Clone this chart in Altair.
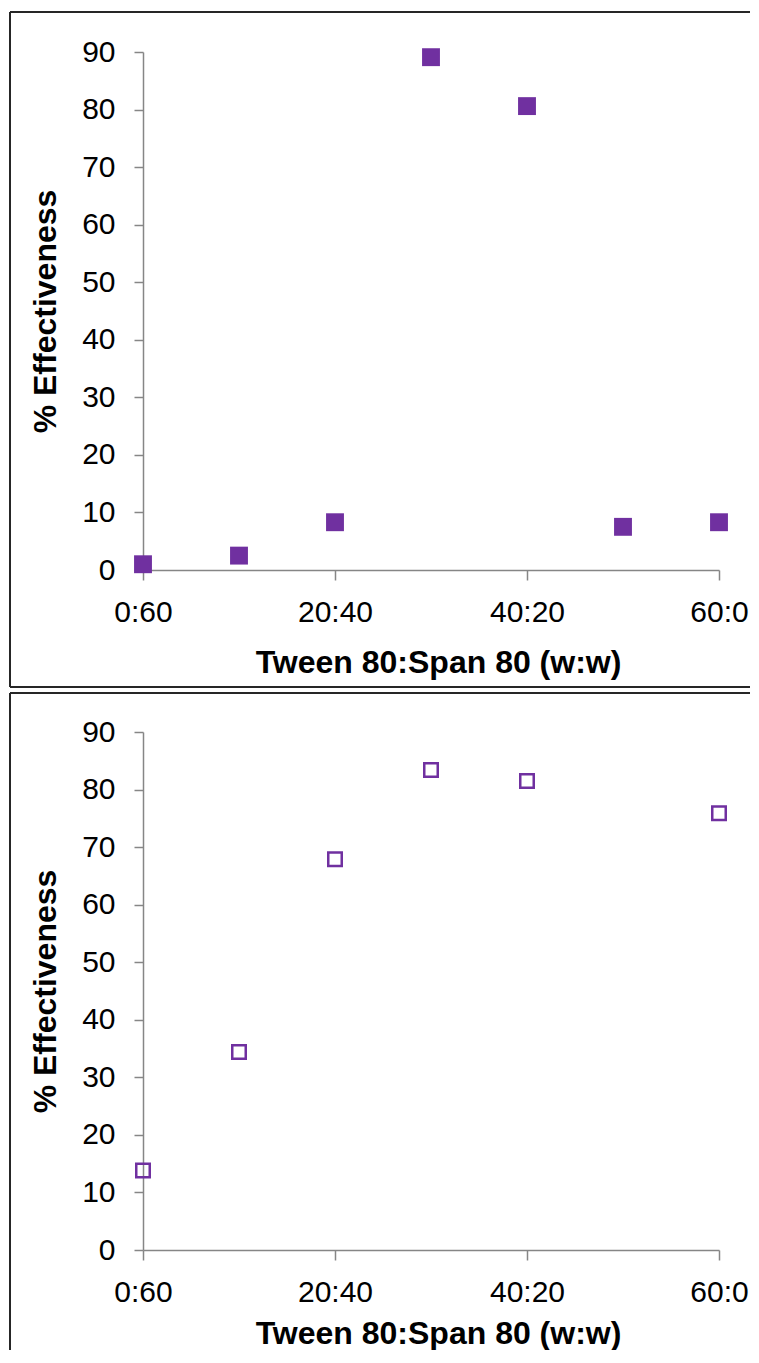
import json
import altair as alt
import pandas as pd

# ---- data ----
ratio_x = [0, 10, 20, 30, 40, 50, 60]
top_effectiveness = [1.0, 2.5, 8.3, 89.1, 80.6, 7.5, 8.3]

bottom_x = [0, 10, 20, 30, 40, 60]
bottom_effectiveness = [13.8, 34.4, 67.9, 83.4, 81.5, 75.9]

x_tick_values = [0, 20, 40, 60]
x_tick_labels = ["0:60", "20:40", "40:20", "60:0"]
y_tick_values = [0, 10, 20, 30, 40, 50, 60, 70, 80, 90]

x_title = "Tween 80:Span 80 (w:w)"
y_title = "% Effectiveness"

# ---- styling ----
W, H = 576, 518
PURPLE = "#7030A0"
AXIS_GREY = "#868686"
BORDER = "#262626"
FONT = "Liberation Sans"

label_expr = f"{json.dumps(x_tick_labels)}[indexof({json.dumps(x_tick_values)}, datum.value)]"

one_row = pd.DataFrame({"k": [0]})


def border_rules(top_y, bottom_y, draw_bottom):
    left, right = -133, 607
    rules = [
        alt.Chart(one_row).mark_rule(color=BORDER, strokeWidth=2).encode(
            x=alt.value(left), x2=alt.value(right), y=alt.value(top_y)
        ),
        alt.Chart(one_row).mark_rule(color=BORDER, strokeWidth=2).encode(
            x=alt.value(left), y=alt.value(top_y), y2=alt.value(bottom_y)
        ),
    ]
    if draw_bottom:
        rules.append(
            alt.Chart(one_row).mark_rule(color=BORDER, strokeWidth=2).encode(
                x=alt.value(left), x2=alt.value(right), y=alt.value(bottom_y)
            )
        )
    return rules


def panel(xs, ys, filled, rules, x_title_y):
    df = pd.DataFrame({"ratio": xs, "eff": ys})
    x = alt.X(
        "ratio:Q",
        scale=alt.Scale(domain=[0, 60], nice=False, zero=False),
        axis=alt.Axis(
            values=x_tick_values,
            labelExpr=label_expr,
            labelFlush=False,
            title=x_title,
            tickSize=10,
            labelPadding=41,
            labelBaseline="alphabetic",
            titleX=295,
            titleY=x_title_y,
            titleBaseline="alphabetic",
            titleAlign="center",
        ),
    )
    y = alt.Y(
        "eff:Q",
        scale=alt.Scale(domain=[0, 90], nice=False),
        axis=alt.Axis(
            values=y_tick_values,
            title=y_title,
            tickSize=9,
            labelPadding=19,
            titleX=-88,
            titleY=H / 2,
            titleBaseline="alphabetic",
            titleAngle=270,
            titleAlign="center",
        ),
    )
    if filled:
        pts = alt.Chart(df).mark_point(
            shape="square", filled=True, size=320, color=PURPLE, opacity=1
        )
    else:
        pts = alt.Chart(df).mark_point(
            shape="square", filled=False, size=182, stroke=PURPLE,
            strokeWidth=2.5, opacity=1
        )
    pts = pts.encode(x=x, y=y)
    return alt.layer(pts, *rules).properties(width=W, height=H)


top = panel(ratio_x, top_effectiveness, True, border_rules(-40, 635, True), 102)
bottom = panel(bottom_x, bottom_effectiveness, False, border_rules(-39, 640, False), 93)

chart = (
    alt.vconcat(top, bottom, spacing=4)
    .properties(padding={"left": 1, "top": 3, "right": 0, "bottom": -23})
    .configure_view(stroke=None)
    .configure_axis(
        grid=False,
        domainColor=AXIS_GREY,
        domainWidth=1.5,
        tickColor=AXIS_GREY,
        tickWidth=1.5,
        labelFont=FONT,
        labelFontSize=30,
        labelColor="black",
        titleFont=FONT,
        titleFontSize=32,
        titleFontWeight="bold",
        titleColor="black",
    )
)

chart.save("out.html", embed_options={"renderer": "svg", "actions": False})
